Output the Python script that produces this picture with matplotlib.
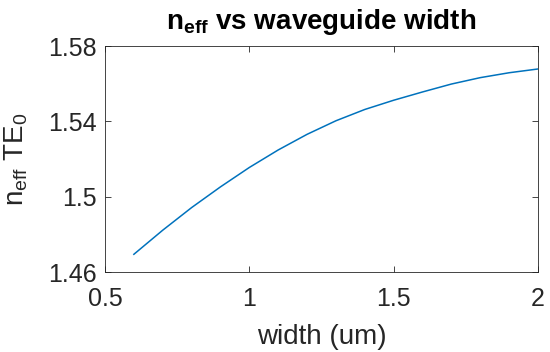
import matplotlib
matplotlib.use("Agg")
import matplotlib.pyplot as plt

plt.rcParams['font.family'] = ['Liberation Sans', 'DejaVu Sans']
plt.rcParams['mathtext.fontset'] = 'custom'
plt.rcParams['mathtext.rm'] = 'Liberation Sans'
plt.rcParams['mathtext.it'] = 'Liberation Sans'
plt.rcParams['mathtext.bf'] = 'Liberation Sans:bold'

# data
width = [0.6, 0.7, 0.8, 0.9, 1.0, 1.1, 1.2, 1.3, 1.4, 1.5, 1.6, 1.7, 1.8, 1.9, 2.0]
n_eff = [1.4694, 1.4822, 1.4942, 1.5052, 1.5155, 1.5248, 1.5331, 1.5403,
         1.5463, 1.5512, 1.5556, 1.5598, 1.5632, 1.5658, 1.5678]

xticks = [0.5, 1, 1.5, 2]
xtick_labels = ['0.5', '1', '1.5', '2']
yticks = [1.46, 1.5, 1.54, 1.58]
ytick_labels = ['1.46', '1.5', '1.54', '1.58']

fig = plt.figure(figsize=(5.5, 3.52), dpi=100)
ax = fig.add_axes([105 / 550, 1 - 272 / 352, 433 / 550, 226 / 352])
ax.plot(width, n_eff, color='#0072BD', linewidth=1.1)

ax.set_xlim(0.5, 2)
ax.set_ylim(1.46, 1.58)
ax.set_xticks(xticks)
ax.set_xticklabels(xtick_labels)
ax.set_yticks(yticks)
ax.set_yticklabels(ytick_labels)
ax.tick_params(direction='in', top=True, right=True, labelsize=18,
               length=4, width=0.6, colors='#262626')
ax.tick_params(axis='x', pad=11)
ax.tick_params(axis='y', pad=6)
for s in ax.spines.values():
    s.set_linewidth(0.6)
    s.set_color('#262626')

ax.set_xlabel('width (um)', fontsize=20, color='#262626', labelpad=9)
ax.set_ylabel(r'n$_{\mathrm{eff}}$ TE$_{\mathrm{0}}$', fontsize=20, color='#262626', labelpad=13)
ax.set_title(r'$\mathbf{n_{eff}}$ vs waveguide width', fontsize=20,
             fontweight='bold', color='black', pad=12)

fig.savefig('out.png', dpi=100)
